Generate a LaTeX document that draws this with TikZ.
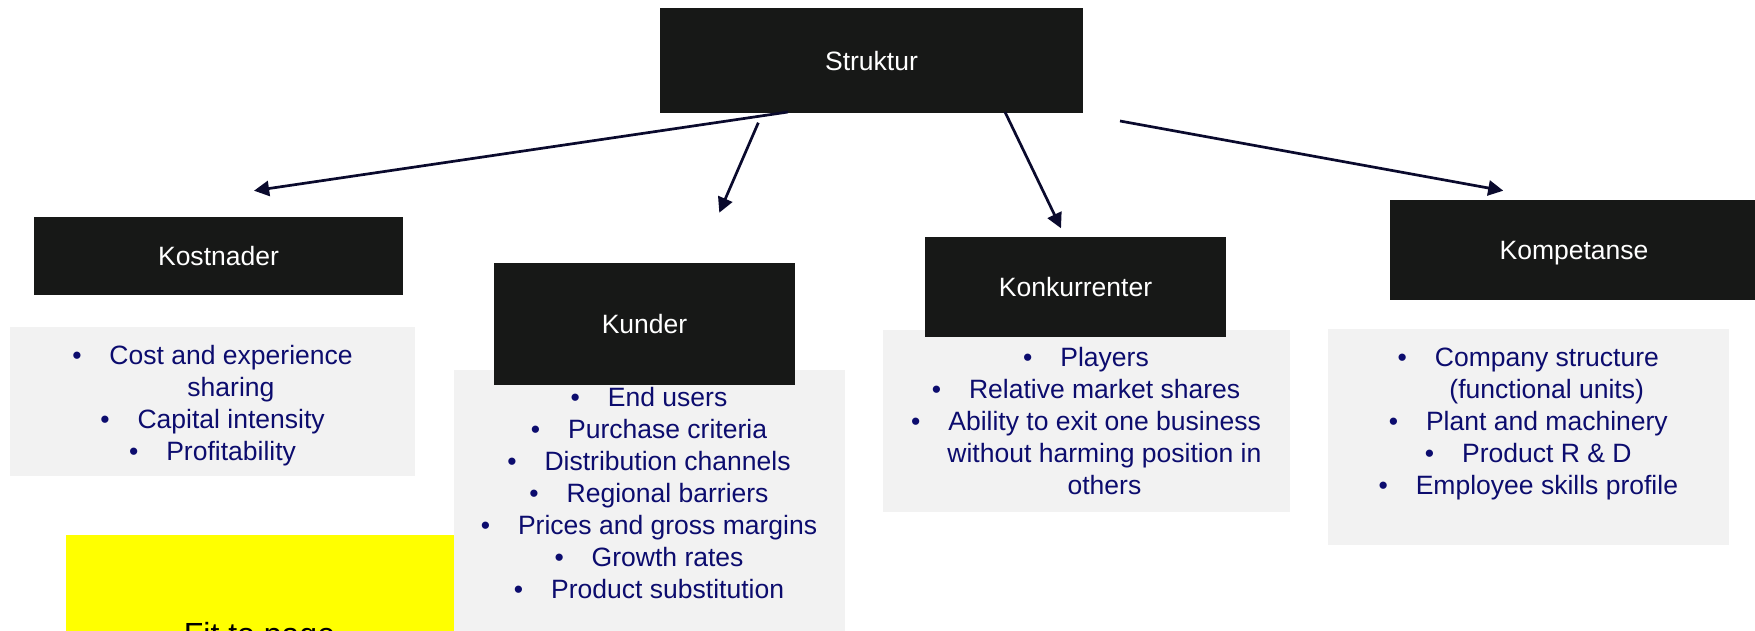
\documentclass[tikz,border=0pt]{standalone}
\usepackage{fontspec}
\setmainfont{Liberation Sans}
\usetikzlibrary{arrows.meta}

\definecolor{hdrfill}{RGB}{23,24,23}
\definecolor{boxgray}{RGB}{242,242,242}
\definecolor{itemblue}{RGB}{12,12,110}
\definecolor{arrowink}{RGB}{10,10,45}
\definecolor{notefill}{RGB}{255,255,0}

% bullet followed by the tab gap, and the hanging indent of wrapped lines
\newcommand{\itm}{\strut\textbullet\hspace{7.94pt}}
\newcommand{\cont}{\hspace*{10.47pt}}

\begin{document}
\begin{tikzpicture}[x=0.01cm,y=-0.01cm,
  txt/.style={font=\fontsize{7.54}{9.1}\selectfont},
  header/.style={txt,fill=hdrfill,text=white,inner sep=0pt,text depth=0pt},
  itembox/.style={fill=boxgray,inner sep=0pt},
  items/.style={txt,text=itemblue,align=center,inner sep=0pt,anchor=north},
  link/.style={draw=arrowink,line width=0.77pt,-{Triangle[length=4.3pt,width=4.3pt]}}]

\useasboundingbox (0,0) rectangle (1755,630);
\clip (0,0) rectangle (1755,630);

% sticky note
\node[fill=notefill,inner sep=0pt,minimum width=3.89cm,minimum height=1.65cm] (note) at (260.5,617.5) {};
\node[anchor=base,font=\fontsize{9.1}{11}\selectfont,text=black] (notelbl) at (259.5,645.6) {Fit to page};

% grey item panels
\node[itembox,minimum width=4.05cm,minimum height=1.49cm] (g1) at (212.5,401.5) {};
\node[itembox,minimum width=3.91cm,minimum height=2.90cm] (g2) at (649.5,515) {};
\node[itembox,minimum width=4.07cm,minimum height=1.82cm] (g3) at (1086.5,421) {};
\node[itembox,minimum width=4.01cm,minimum height=2.16cm] (g4) at (1528.5,437) {};

% headers
\node[header,minimum width=4.23cm,minimum height=1.04cm] (struktur) at (871.5,60.5) {Struktur};
\node[header,minimum width=3.69cm,minimum height=0.77cm] (kostnader) at (218.5,256) {Kostnader};
\node[header,minimum width=3.01cm,minimum height=1.21cm] (kunder) at (644.5,324) {Kunder};
\node[header,minimum width=3.01cm,minimum height=0.99cm] (konkurrenter) at (1075.5,287) {Konkurrenter};
\node[header,minimum width=3.68cm,minimum height=0.99cm] (kompetanse) at (1574,250) {Kompetanse};

% item lists
\node[items] (t1) at (212.5,340.9) {\itm Cost and experience\\ \cont sharing\\ \itm Capital intensity\\ \itm Profitability};
\node[items] (t2) at (649,383.3) {\itm End users\\ \itm Purchase criteria\\ \itm Distribution channels\\ \itm Regional barriers\\ \itm Prices and gross margins\\ \itm Growth rates\\ \itm Product substitution};
\node[items] (t3) at (1086,343.3) {\itm Players\\ \itm Relative market shares\\ \itm Ability to exit one business\\ \cont without harming position in\\ \cont others};
\node[items] (t4) at (1528.3,343.3) {\itm Company structure\\ \cont (functional units)\\ \itm Plant and machinery\\ \itm Product R \& D\\ \itm Employee skills profile};

% connector ends
\coordinate (a1s) at (788,112);
\coordinate (a1e) at (254,190.7);
\coordinate (a2s) at (758.3,122.7);
\coordinate (a2e) at (719.3,212.7);
\coordinate (a3s) at (1005,112);
\coordinate (a3e) at (1061,228.3);
\coordinate (a4s) at (1120,121);
\coordinate (a4e) at (1503.3,190.7);

\draw[link] (a1s) -- (a1e);
\draw[link] (a2s) -- (a2e);
\draw[link] (a3s) -- (a3e);
\draw[link] (a4s) -- (a4e);
\end{tikzpicture}
\end{document}
